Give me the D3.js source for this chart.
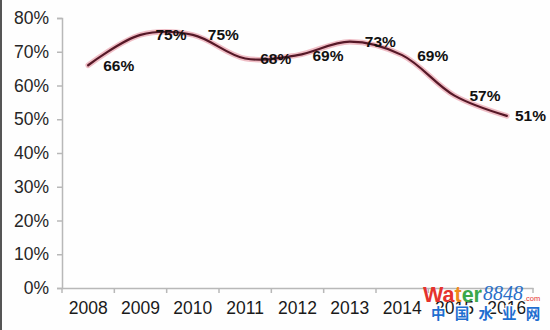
<!DOCTYPE html>
<html>
<head>
<meta charset="utf-8">
<script src="https://cdn.jsdelivr.net/npm/d3@7"></script>
<style>
  html, body { margin: 0; padding: 0; background: #fff; }
  svg { display: block; }
</style>
</head>
<body>
<svg id="chart" width="550" height="330"></svg>
<script>
// Yearly share, 2008–2016
const years = ["2008", "2009", "2010", "2011", "2012", "2013", "2014", "2015", "2016"];
const shares = [0.66, 0.75, 0.75, 0.68, 0.69, 0.73, 0.69, 0.57, 0.51];
const yTicks = [0, 0.1, 0.2, 0.3, 0.4, 0.5, 0.6, 0.7, 0.8];

(function draw() {
  const svg = d3.select("#chart");
  const W = 550, H = 330;
  const m = { left: 62, right: 533, top: 18, bottom: 288 };

  svg.append("rect").attr("width", W).attr("height", H).attr("fill", "#fefefe");
  // dark frame edge on the left
  svg.append("rect").attr("x", 0).attr("y", 0).attr("width", 2).attr("height", H).attr("fill", "#555");

  const x = d3.scaleBand().domain(years).range([m.left, m.right]).padding(0);
  const y = d3.scaleLinear().domain([0, 0.8]).range([m.bottom, m.top]);

  const fmt = d3.format(".0%");
  const axisColor = "#b8b8b8";

  // Y axis
  const yAxis = svg.append("g").attr("transform", `translate(${m.left},0)`)
    .call(d3.axisLeft(y).tickValues(yTicks).tickFormat(fmt).tickSize(5).tickPadding(8));
  yAxis.select(".domain").attr("stroke", axisColor).attr("stroke-width", 1.5);
  yAxis.selectAll(".tick line").attr("stroke", axisColor).attr("stroke-width", 1.5);
  yAxis.selectAll(".tick text")
    .attr("font-family", "Liberation Sans, Arial, sans-serif")
    .attr("font-size", 17.5).attr("fill", "#262626");

  // X axis with ticks between categories
  const xAxis = svg.append("g").attr("transform", `translate(0,${m.bottom})`)
    .call(d3.axisBottom(x).tickSize(0).tickPadding(14));
  xAxis.select(".domain").attr("stroke", axisColor).attr("stroke-width", 1.5);
  xAxis.selectAll(".tick text")
    .attr("font-family", "Liberation Sans, Arial, sans-serif")
    .attr("font-size", 17.5).attr("fill", "#1a1a1a");
  const bounds = years.map(d => x(d)).concat([x(years[years.length - 1]) + x.bandwidth()]);
  xAxis.selectAll(".sep").data(bounds).enter().append("line")
    .attr("x1", d => d).attr("x2", d => d).attr("y1", 0).attr("y2", 5)
    .attr("stroke", axisColor).attr("stroke-width", 1.5);

  // Smoothed line
  const pts = years.map((d, i) => [x(d) + x.bandwidth() / 2, y(shares[i])]);
  const line = d3.line().curve(d3.curveCatmullRom.alpha(0.5));

  svg.append("path").attr("d", line(pts)).attr("fill", "none")
    .attr("stroke", "#e9a7b1").attr("stroke-width", 5.5).attr("stroke-linecap", "round").attr("opacity", 0.75);
  svg.append("path").attr("d", line(pts)).attr("fill", "none")
    .attr("stroke", "#561827").attr("stroke-width", 2.2).attr("stroke-linecap", "round");

  // Value labels to the right of each point, kept inside the frame
  svg.selectAll(".lbl").data(pts).enter().append("text")
    .attr("class", "lbl")
    .attr("y", d => d[1])
    .attr("dy", "0.36em")
    .attr("font-family", "Liberation Sans, Arial, sans-serif")
    .attr("font-weight", "bold").attr("font-size", 15.5).attr("fill", "#111")
    .text((d, i) => fmt(shares[i]))
    .attr("x", function (d) {
      const w = this.getComputedTextLength();
      return Math.min(d[0] + 15, W - 4 - w);
    });

  // Site mark, bottom right
  const wm = svg.append("g");
  const wt = wm.append("text").attr("x", 423).attr("y", 302)
    .attr("font-family", "Liberation Sans, Arial, sans-serif").attr("font-weight", "bold").attr("font-size", 21.5);
  [["W", "#e5322d"], ["a", "#e5322d"], ["t", "#f08a1c"], ["e", "#3aa84a"], ["r", "#3aa84a"]]
    .forEach(([c, col]) => wt.append("tspan").attr("fill", col).text(c));
  wm.append("text").attr("x", 483).attr("y", 300)
    .attr("font-family", "Liberation Serif, serif").attr("font-style", "italic").attr("font-size", 20)
    .attr("fill", "#2a6fc8").text("8848");
  wm.append("text").attr("x", 524).attr("y", 301)
    .attr("font-family", "Liberation Sans, Arial, sans-serif").attr("font-size", 7.5)
    .attr("fill", "#e5322d").text(".com");
  wm.append("text").attr("x", 431).attr("y", 319)
    .attr("font-family", "Noto Sans CJK SC, sans-serif").attr("font-weight", "bold").attr("font-size", 14.5)
    .attr("letter-spacing", 9.2).attr("fill", "#1f6fd0")
    .attr("stroke", "#fff").attr("stroke-width", 2.5).attr("paint-order", "stroke")
    .text("中国水业网");
})();
</script>
</body>
</html>
